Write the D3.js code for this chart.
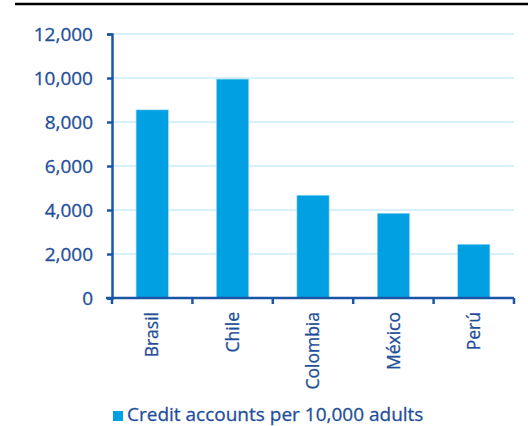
<!DOCTYPE html>
<html>
<head>
<meta charset="utf-8">
<script src="https://cdn.jsdelivr.net/npm/d3@7"></script>
<style>
  body { margin: 0; background: #fff; }
  svg { display: block; }
  svg text.lbl {
    font-family: "Open Sans", sans-serif;
    fill: #1f4f99;
    stroke: #1f4f99;
    stroke-width: 0.3px;
  }
</style>
</head>
<body>
<svg id="chart"></svg>
<script>
const countries = ["Brasil", "Chile", "Colombia", "México", "Perú"];
const creditAccounts = [8550, 9950, 4670, 3850, 2440];
const yTicks = [0, 2000, 4000, 6000, 8000, 10000, 12000];
const seriesName = "Credit accounts per 10,000 adults";

const width = 528;
const height = 426;
const margin = { top: 34, right: 14, bottom: 128, left: 112 };
const innerW = width - margin.left - margin.right;
const innerH = height - margin.top - margin.bottom;

const axisColor = "#1b56a4";
const barColor = "#00a0e3";
const gridColor = "#c9ecfa";

const svg = d3.select("#chart").attr("width", width).attr("height", height);

// top rule
svg.append("line")
  .attr("x1", 15).attr("x2", width)
  .attr("y1", 4).attr("y2", 4)
  .attr("stroke", "#000").attr("stroke-width", 2.5);

const g = svg.append("g").attr("transform", `translate(${margin.left},${margin.top})`);

const x = d3.scaleBand().domain(countries).range([0, innerW]).paddingInner(0.6).paddingOuter(0.3);
const y = d3.scaleLinear().domain([0, 12000]).range([innerH, 0]);

// grid
g.append("g")
  .selectAll("line")
  .data(yTicks.filter((d) => d > 0))
  .join("line")
  .attr("x1", 0).attr("x2", innerW)
  .attr("y1", (d) => y(d)).attr("y2", (d) => y(d))
  .attr("stroke", gridColor).attr("stroke-width", 1.5);

// bars
g.append("g")
  .selectAll("rect")
  .data(countries)
  .join("rect")
  .attr("x", (d) => x(d))
  .attr("y", (d, i) => y(creditAccounts[i]))
  .attr("width", x.bandwidth())
  .attr("height", (d, i) => innerH - y(creditAccounts[i]))
  .attr("fill", barColor)
  .attr("stroke", "#8fd6f3")
  .attr("stroke-width", 0.6);

// y axis
const yAxis = g.append("g")
  .call(d3.axisLeft(y).tickValues(yTicks).tickSize(5).tickPadding(14).tickFormat(d3.format(",")))
  .attr("font-family", null);
yAxis.select(".domain").attr("stroke", axisColor).attr("stroke-width", 2.5);
yAxis.selectAll(".tick line").attr("stroke", axisColor).attr("stroke-width", 2.5);
yAxis.selectAll("text")
  .attr("class", "lbl")
  .attr("fill", null)
  .style("font-size", "19px");

// x axis: ticks at category boundaries
const step = x.step();
const boundaries = d3.range(countries.length + 1).map((i) => i * step);
const xAxis = g.append("g").attr("transform", `translate(0,${innerH})`);
xAxis.append("line")
  .attr("x1", -6).attr("x2", innerW)
  .attr("stroke", axisColor).attr("stroke-width", 2.5);
xAxis.selectAll("line.tick")
  .data(boundaries)
  .join("line")
  .attr("class", "tick")
  .attr("x1", (d) => d).attr("x2", (d) => d)
  .attr("y1", 0).attr("y2", 6)
  .attr("stroke", axisColor).attr("stroke-width", 2.5);
xAxis.selectAll("text")
  .data(countries)
  .join("text")
  .attr("class", "lbl")
  .attr("transform", (d) => `translate(${x(d) + x.bandwidth() / 2},14) rotate(-90)`)
  .attr("text-anchor", "end")
  .attr("dy", "0.35em")
  .style("font-size", "17.5px")
  .text((d) => d);

// legend
const legend = svg.append("g").attr("transform", `translate(113,${height - 15})`);
legend.append("rect")
  .attr("x", 0).attr("y", 0)
  .attr("width", 10).attr("height", 10)
  .attr("fill", barColor);
legend.append("text")
  .attr("class", "lbl")
  .attr("x", 14).attr("y", 10)
  .style("font-size", "19px")
  .text(seriesName);
</script>
</body>
</html>
